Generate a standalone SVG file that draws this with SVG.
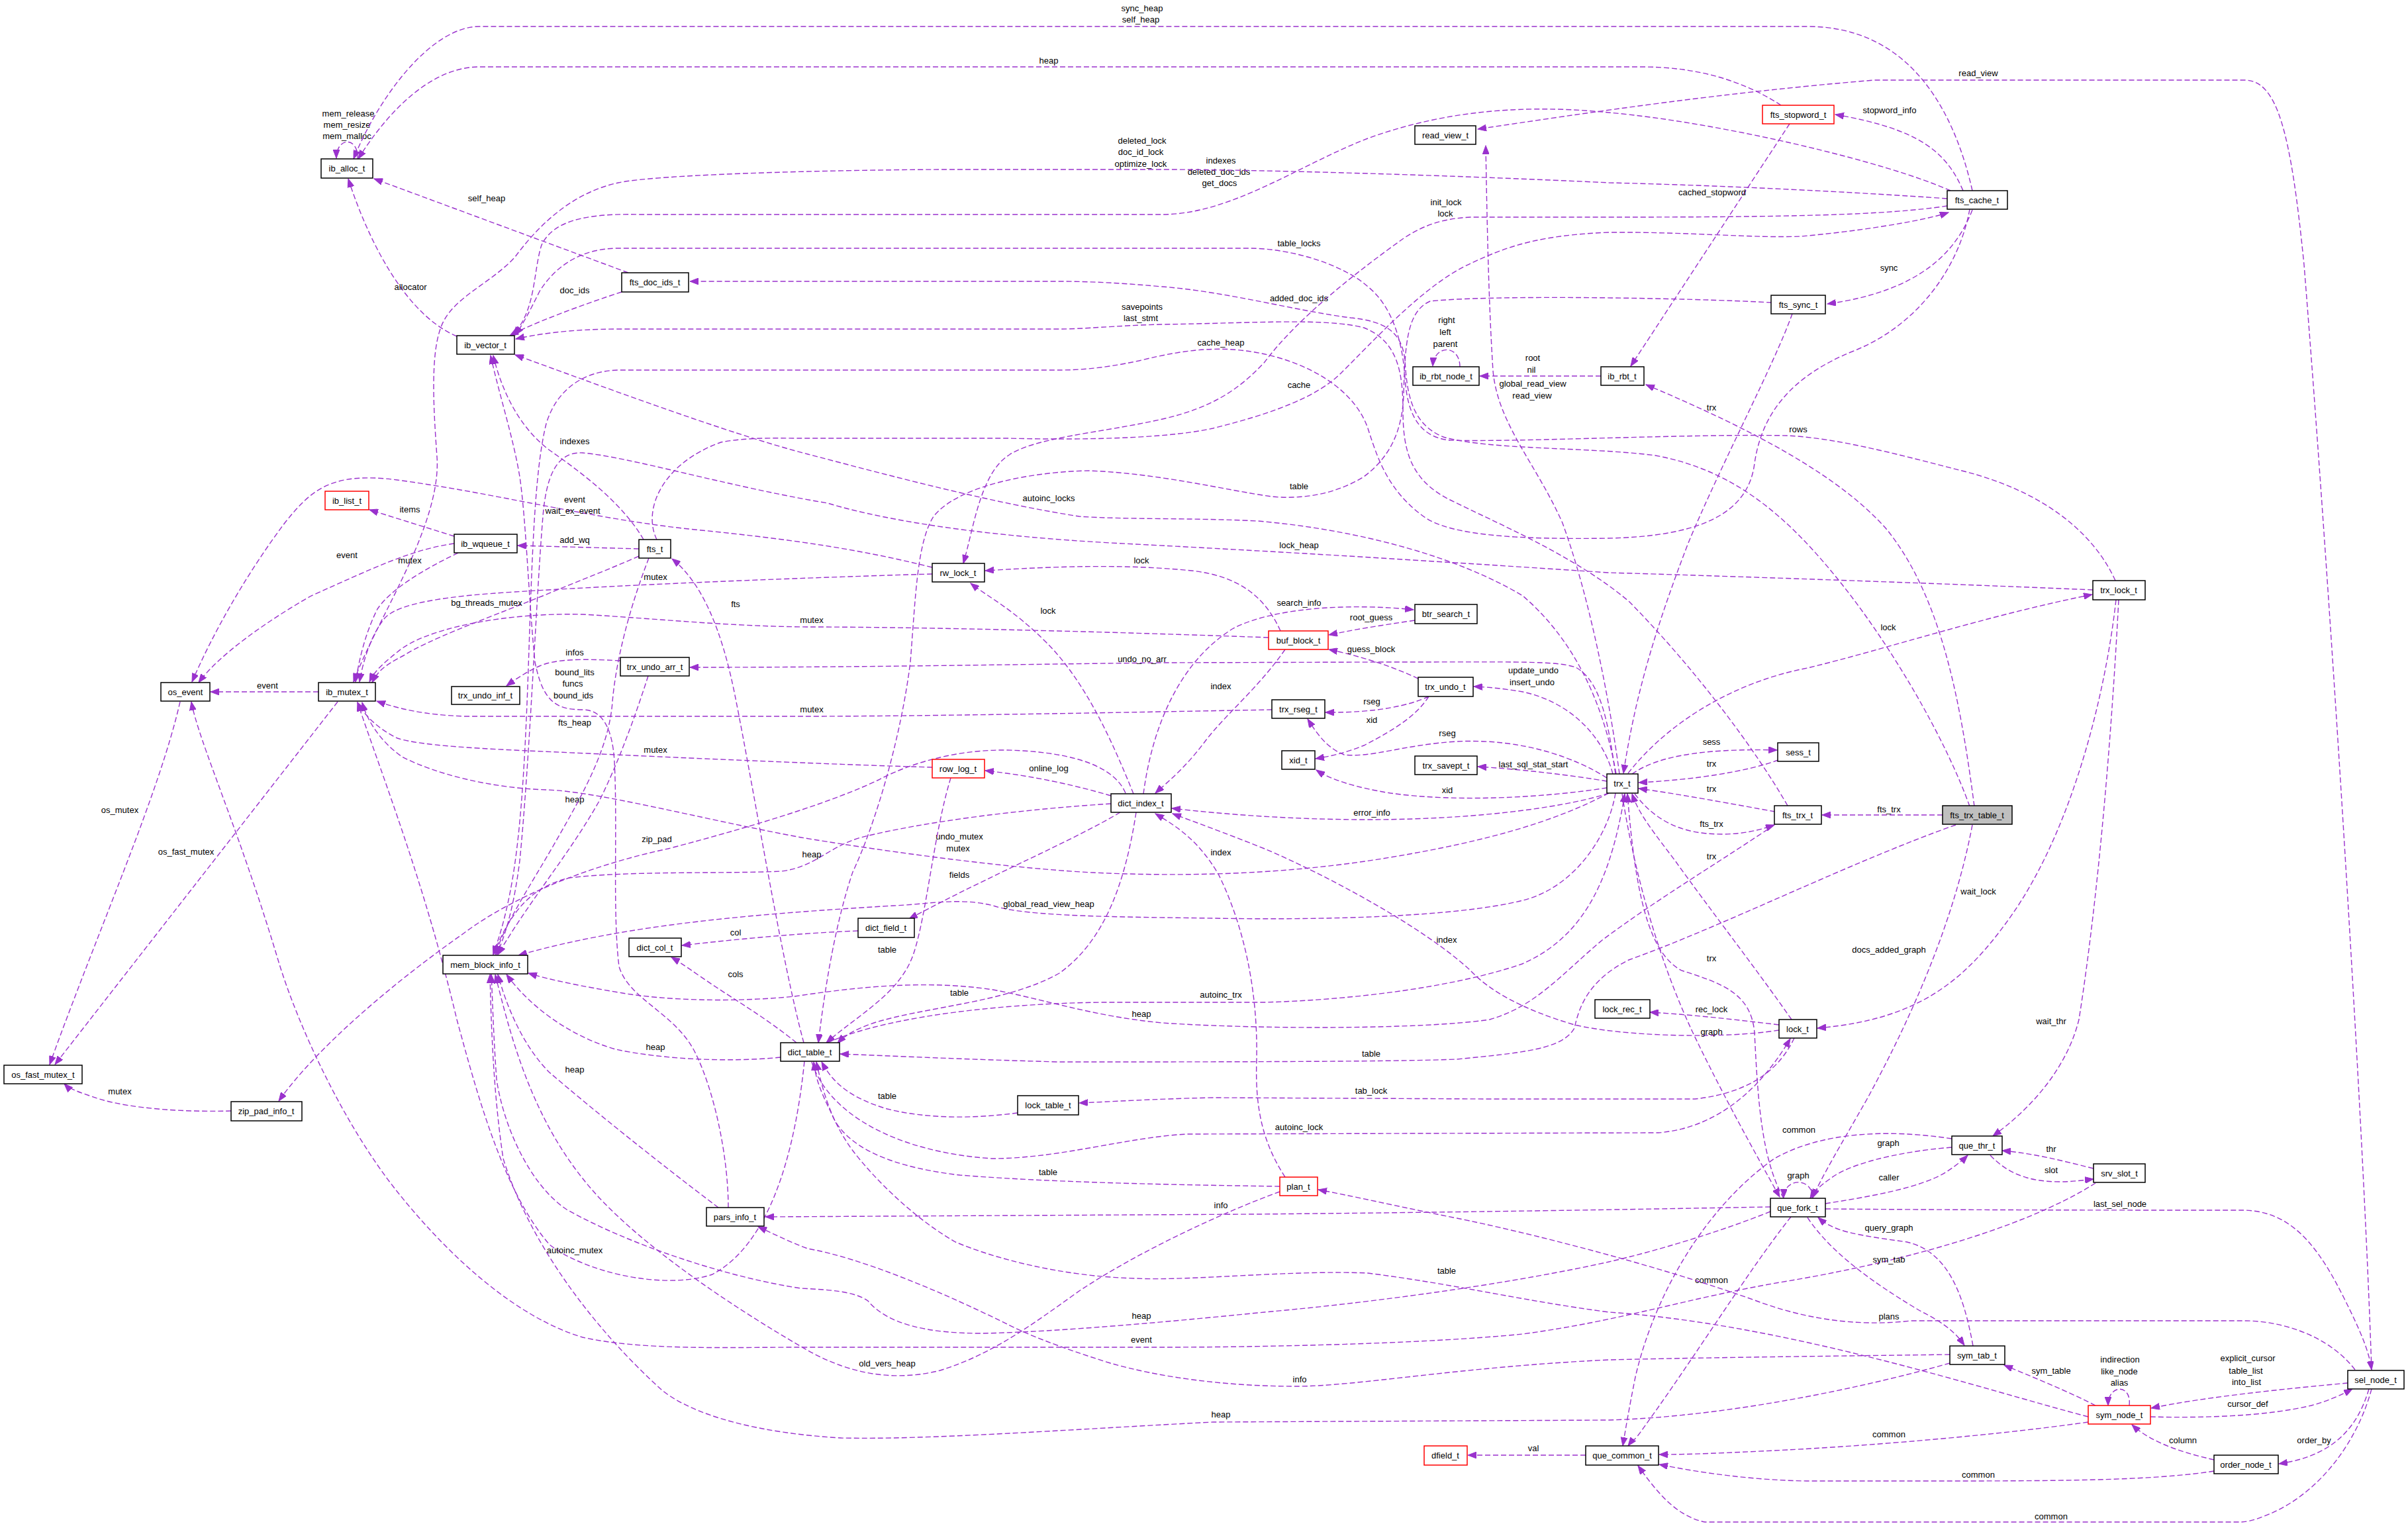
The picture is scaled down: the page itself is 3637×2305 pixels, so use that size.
<svg xmlns="http://www.w3.org/2000/svg" width="3637" height="2305" viewBox="0 0 3637 2305">
<defs>
<marker id="arr" markerUnits="userSpaceOnUse" markerWidth="14" markerHeight="10" refX="13" refY="5" orient="auto"><path d="M0,0 L13,5 L0,10 z" fill="#9a32cd" stroke="#9a32cd" stroke-width="1"/></marker>
<style>
.e{fill:none;stroke:#9a32cd;stroke-width:1.4;stroke-dasharray:8,4;marker-end:url(#arr)}
.n rect{fill:#ffffff;stroke:#000000;stroke-width:1.5}
.n.r rect{stroke:#ff0000}
.n.g rect{fill:#bfbfbf}
text{font-family:"Liberation Sans",Arial,sans-serif;font-size:13px;text-anchor:middle;fill:#000000}
</style>
</defs>
<rect x="0" y="0" width="3637" height="2305" fill="#ffffff"/>
<g id="edges">
<g class="edge"><path class="e" d="M 540,240 C 542,206 508,206 508,239"/><text x="526" y="176">mem_release</text><text x="524" y="193">mem_resize</text><text x="524" y="210">mem_malloc</text></g>
<g class="edge"><path class="e" d="M 2979,288 C 2950,160 2880,40 2730,40 L 724,40 C 650,40 570,150 534,240"/><text x="1725" y="17">sync_heap</text><text x="1723" y="34">self_heap</text></g>
<g class="edge"><path class="e" d="M 2690,159 C 2630,120 2560,101 2480,101 L 724,101 C 640,101 572,190 541,240"/><text x="1584" y="96">heap</text></g>
<g class="edge"><path class="e" d="M 949,412 L 565,270"/><text x="735" y="304">self_heap</text></g>
<g class="edge"><path class="e" d="M 690,508 C 600,470 545,330 526,270"/><text x="620" y="438">allocator</text></g>
<g class="edge"><path class="e" d="M 939,441 C 880,460 800,490 770,507"/><text x="868" y="443">doc_ids</text></g>
<g class="edge"><path class="e" d="M 2946,288 C 2850,245 2600,185 2430,170 C 2330,160 2200,160 2066,209 C 1960,250 1860,324 1754,324 L 965,324 C 880,322 835,335 818,370 C 805,410 810,470 774,506"/><text x="1844" y="247">indexes</text><text x="1841" y="264">deleted_doc_ids</text><text x="1842" y="281">get_docs</text></g>
<g class="edge"><path class="e" d="M 2941,300 C 2800,290 2600,280 2430,276 C 2200,265 1900,256 1754,256 L 1443,256 C 1300,256 1000,262 934,276 C 860,292 810,345 778,388 C 740,430 680,450 665,497 C 650,540 655,620 660,690 C 665,760 620,850 585,920 C 560,970 545,1000 534,1030"/><text x="1725" y="217">deleted_lock</text><text x="1723" y="234">doc_id_lock</text><text x="1723" y="252">optimize_lock</text></g>
<g class="edge"><path class="e" d="M 3582,2069 C 3570,1700 3520,900 3480,400 C 3460,200 3440,121 3390,121 L 2831,121 C 2600,140 2400,170 2232,195"/><text x="2988" y="115">read_view</text></g>
<g class="edge"><path class="e" d="M 2965,288 C 2940,230 2900,195 2772,173"/><text x="2854" y="171">stopword_info</text></g>
<g class="edge"><path class="e" d="M 2703,187 L 2463,553"/><text x="2586" y="295">cached_stopword</text></g>
<g class="edge"><path class="e" d="M 2941,311 C 2850,325 2700,328 2430,328 L 2221,328 C 2180,330 2150,340 2120,360 C 2050,410 1960,480 1910,547 C 1870,590 1830,615 1760,632 C 1660,655 1560,660 1520,690 C 1480,720 1470,800 1455,851"/><text x="2184" y="310">init_lock</text><text x="2183" y="327">lock</text></g>
<g class="edge"><path class="e" d="M 2446,1169 C 2430,1050 2400,900 2360,790 C 2320,700 2262,640 2255,560 C 2248,450 2246,330 2244,220"/><text x="2315" y="584">global_read_view</text><text x="2314" y="602">read_view</text></g>
<g class="edge"><path class="e" d="M 2979,317 C 2955,380 2900,440 2760,459"/><text x="2853" y="409">sync</text></g>
<g class="edge"><path class="e" d="M 992,815 C 970,770 1000,700 1089,668 C 1130,660 1180,662 1210,662 L 1521,662 C 1600,664 1750,665 1832,647 C 1920,625 1990,600 2027,562 C 2070,520 2150,430 2221,398 C 2280,370 2330,355 2430,351 C 2550,350 2650,360 2720,357 C 2800,350 2900,335 2943,321"/><text x="1962" y="586">cache</text></g>
<g class="edge"><path class="e" d="M 2975,1218 C 2940,1120 2860,980 2780,880 C 2700,780 2620,710 2500,688 C 2400,675 2250,680 2180,660 C 2130,640 2125,590 2122,545 C 2118,500 2090,485 2040,480 C 1960,470 1850,440 1755,433 C 1700,428 1650,425 1599,425 L 1042,425"/><text x="1962" y="455">added_doc_ids</text></g>
<g class="edge"><path class="e" d="M 3195,877 C 3160,800 3080,740 2963,711 C 2880,690 2780,662 2700,658 C 2550,655 2300,668 2190,665 C 2140,660 2125,620 2122,570 C 2118,510 2100,460 2066,433 C 2030,400 1950,375 1887,375 L 934,375 C 880,375 840,400 815,440 C 800,470 790,490 778,506"/><text x="1962" y="372">table_locks</text></g>
<g class="edge"><path class="e" d="M 2700,1217 C 2650,1130 2560,1010 2461,909 C 2380,840 2260,790 2190,755 C 2130,725 2119,680 2119,620 C 2119,560 2110,515 2060,495 C 2000,480 1900,488 1754,490 C 1680,492 1640,497 1599,497 L 934,497 C 860,497 810,505 779,512"/><text x="1725" y="468">savepoints</text><text x="1723" y="485">last_stmt</text></g>
<g class="edge"><path class="e" d="M 2205,554 C 2205,520 2166,520 2164,553"/><text x="2185" y="488">right</text><text x="2183" y="506">left</text><text x="2183" y="524">parent</text></g>
<g class="edge"><path class="e" d="M 2975,316 C 2960,400 2900,490 2800,530 C 2700,570 2660,630 2650,700 C 2640,780 2560,810 2430,813 C 2300,815 2190,810 2150,780 C 2095,740 2080,690 2066,647 C 2050,600 2000,560 1930,540 C 1860,520 1800,525 1720,545 C 1660,558 1620,559 1599,559 L 934,559 C 880,560 840,590 825,640 C 810,700 805,800 800,950 C 795,1100 790,1250 770,1350 C 760,1400 752,1420 745,1442"/><text x="1844" y="522">cache_heap</text></g>
<g class="edge"><path class="e" d="M 2418,568 L 2235,568"/><text x="2315" y="545">root</text><text x="2313" y="563">nil</text></g>
<g class="edge"><path class="e" d="M 2707,474 C 2680,550 2600,700 2550,820 C 2500,950 2470,1050 2452,1168"/><text x="2585" y="620">trx</text></g>
<g class="edge"><path class="e" d="M 2982,1218 C 2960,1050 2930,900 2850,800 C 2780,720 2650,650 2486,581"/><text x="2716" y="653">rows</text></g>
<g class="edge"><path class="e" d="M 972,815 C 940,760 880,715 830,680 C 790,650 760,600 745,537"/><text x="868" y="671">indexes</text></g>
<g class="edge"><path class="e" d="M 1408,857 C 1300,830 1200,815 1050,800 C 900,785 750,745 600,725 C 500,712 470,740 430,790 C 370,870 320,960 290,1030"/><text x="868" y="759">event</text><text x="865" y="776">wait_ex_event</text></g>
<g class="edge"><path class="e" d="M 686,810 L 558,770"/><text x="619" y="774">items</text></g>
<g class="edge"><path class="e" d="M 965,829 L 782,824"/><text x="868" y="820">add_wq</text></g>
<g class="edge"><path class="e" d="M 3161,891 C 2900,880 2600,870 2430,865 C 2200,850 1990,836 1677,820 C 1500,810 1350,790 1250,760 C 1100,735 950,690 880,684 C 840,682 825,720 820,780 C 810,900 800,1150 785,1300 C 775,1380 760,1420 750,1442"/><text x="1962" y="828">lock_heap</text></g>
<g class="edge"><path class="e" d="M 686,821 C 620,830 560,860 470,900 C 400,940 330,990 300,1031"/><text x="524" y="843">event</text></g>
<g class="edge"><path class="e" d="M 692,835 C 640,860 590,890 570,920 C 550,960 542,1000 537,1030"/><text x="619" y="851">mutex</text></g>
<g class="edge"><path class="e" d="M 1934,953 C 1910,900 1870,870 1800,862 C 1700,852 1600,855 1488,862"/><text x="1724" y="851">lock</text></g>
<g class="edge"><path class="e" d="M 1408,867 C 1300,870 1000,880 778,894 C 680,900 600,910 580,935 C 560,960 548,1000 543,1030"/><text x="990" y="876">mutex</text></g>
<g class="edge"><path class="e" d="M 965,840 C 920,860 880,875 820,900 C 720,940 650,965 610,990 C 580,1005 570,1015 562,1031"/><text x="735" y="915">bg_threads_mutex</text></g>
<g class="edge"><path class="e" d="M 1727,1199 C 1740,1100 1780,1000 1863,949 C 1930,915 2050,912 2135,921"/><text x="1962" y="915">search_info</text></g>
<g class="edge"><path class="e" d="M 2137,937 C 2090,944 2050,950 2007,959"/><text x="2071" y="937">root_guess</text></g>
<g class="edge"><path class="e" d="M 1712,1199 C 1680,1120 1640,1030 1580,970 C 1530,920 1490,900 1466,881"/><text x="1583" y="927">lock</text></g>
<g class="edge"><path class="e" d="M 1916,963 C 1700,955 1400,947 1220,947 C 1100,946 1000,935 880,928 C 760,925 640,950 600,985 C 575,1005 565,1015 558,1030"/><text x="1226" y="941">mutex</text></g>
<g class="edge"><path class="e" d="M 1214,1575 C 1180,1450 1140,1200 1110,1050 C 1090,950 1060,880 1015,844"/><text x="1111" y="917">fts</text></g>
<g class="edge"><path class="e" d="M 2142,1025 C 2100,1005 2050,990 2007,981"/><text x="2071" y="985">guess_block</text></g>
<g class="edge"><path class="e" d="M 2440,1169 C 2430,1100 2420,1030 2380,1008 C 2350,998 2300,1000 2100,1000 L 1755,1001 C 1500,1004 1300,1008 1042,1008"/><text x="1725" y="1000">undo_no_arr</text></g>
<g class="edge"><path class="e" d="M 2436,1169 C 2420,1110 2370,1060 2300,1045 C 2270,1040 2250,1038 2226,1037"/><text x="2316" y="1017">update_undo</text><text x="2314" y="1035">insert_undo</text></g>
<g class="edge"><path class="e" d="M 937,998 C 880,995 840,995 815,1006 C 795,1015 780,1025 765,1036"/><text x="868" y="990">infos</text></g>
<g class="edge"><path class="e" d="M 1100,1824 C 1100,1750 1080,1650 1050,1590 C 1020,1530 950,1510 935,1460 C 925,1380 933,1250 928,1150 C 925,1100 910,1072 880,1072 C 840,1072 820,1060 808,1000 C 798,900 795,790 785,720 C 775,660 755,600 741,537"/><text x="868" y="1020">bound_lits</text><text x="865" y="1037">funcs</text><text x="866" y="1055">bound_ids</text></g>
<g class="edge"><path class="e" d="M 2158,1052 C 2130,1065 2080,1077 2002,1076"/><text x="2072" y="1064">rseg</text></g>
<g class="edge"><path class="e" d="M 2158,1052 C 2140,1080 2110,1100 2060,1126 C 2030,1138 2010,1142 1987,1146"/><text x="2072" y="1092">xid</text></g>
<g class="edge"><path class="e" d="M 2427,1175 C 2380,1145 2300,1115 2200,1120 C 2120,1125 2070,1145 2030,1140 C 2005,1130 1990,1110 1975,1086"/><text x="2186" y="1112">rseg</text></g>
<g class="edge"><path class="e" d="M 2427,1180 C 2380,1172 2300,1162 2232,1158"/><text x="2316" y="1159">last_sql_stat_start</text></g>
<g class="edge"><path class="e" d="M 1678,1202 C 1620,1185 1560,1172 1488,1164"/><text x="1584" y="1165">online_log</text></g>
<g class="edge"><path class="e" d="M 2465,1169 C 2500,1145 2560,1130 2684,1133"/><text x="2585" y="1125">sess</text></g>
<g class="edge"><path class="e" d="M 2686,1148 C 2640,1165 2560,1178 2475,1182"/><text x="2585" y="1158">trx</text></g>
<g class="edge"><path class="e" d="M 2681,1226 C 2620,1215 2540,1200 2475,1191"/><text x="2585" y="1196">trx</text></g>
<g class="edge"><path class="e" d="M 2427,1190 C 2330,1205 2200,1212 2100,1198 C 2050,1190 2010,1178 1988,1163"/><text x="2186" y="1198">xid</text></g>
<g class="edge"><path class="e" d="M 2934,1231 L 2752,1231"/><text x="2853" y="1227">fts_trx</text></g>
<g class="edge"><path class="e" d="M 2430,1198 C 2380,1215 2250,1238 2066,1238 C 1950,1238 1850,1230 1770,1221"/><text x="2072" y="1232">error_info</text></g>
<g class="edge"><path class="e" d="M 2469,1199 C 2500,1240 2540,1260 2600,1260 C 2630,1260 2655,1255 2680,1246"/><text x="2585" y="1249">fts_trx</text></g>
<g class="edge"><path class="e" d="M 2430,1198 C 2350,1240 2250,1270 2100,1295 C 1950,1320 1800,1325 1650,1318 C 1500,1310 1300,1280 1210,1265 C 1050,1235 900,1195 825,1193 C 740,1190 660,1170 607,1143 C 575,1120 555,1090 547,1061"/><text x="1449" y="1268">undo_mutex</text><text x="1447" y="1286">mutex</text></g>
<g class="edge"><path class="e" d="M 1408,1159 C 1300,1156 1100,1148 887,1138 C 750,1132 640,1128 600,1115 C 570,1100 550,1080 540,1061"/><text x="990" y="1137">mutex</text></g>
<g class="edge"><path class="e" d="M 1921,1072 C 1700,1076 1400,1082 1210,1082 L 703,1082 C 640,1080 600,1070 569,1059"/><text x="1226" y="1076">mutex</text></g>
<g class="edge"><path class="e" d="M 1678,1214 C 1550,1222 1400,1240 1300,1265 C 1250,1280 1230,1310 1180,1316 C 1100,1320 950,1315 860,1326 C 800,1340 770,1380 745,1442"/><text x="1226" y="1295">heap</text></g>
<g class="edge"><path class="e" d="M 979,1021 C 960,1080 935,1150 905,1210 C 860,1290 800,1360 752,1442"/><text x="868" y="1212">heap</text></g>
<g class="edge"><path class="e" d="M 980,843 C 950,920 930,1000 925,1060 C 920,1130 880,1200 840,1270 C 800,1340 765,1390 748,1442"/><text x="868" y="1096">fts_heap</text></g>
<g class="edge"><path class="e" d="M 1700,1198 C 1680,1150 1600,1135 1521,1133 C 1450,1132 1380,1150 1327,1178 C 1260,1210 1150,1245 1009,1282 C 900,1305 780,1350 700,1410 C 600,1480 480,1580 421,1663"/><text x="992" y="1272">zip_pad</text></g>
<g class="edge"><path class="e" d="M 1941,981 C 1900,1040 1850,1080 1820,1120 C 1790,1160 1765,1180 1745,1198"/><text x="1844" y="1041">index</text></g>
<g class="edge"><path class="e" d="M 1941,1778 C 1910,1730 1895,1680 1898,1600 C 1900,1500 1880,1400 1840,1320 C 1810,1270 1780,1250 1745,1229"/><text x="1844" y="1292">index</text></g>
<g class="edge"><path class="e" d="M 2687,1556 C 2600,1570 2450,1565 2378,1548 C 2300,1525 2250,1497 2221,1466 C 2150,1400 2000,1320 1910,1282 C 1850,1258 1800,1240 1771,1229"/><text x="2185" y="1424">index</text></g>
<g class="edge"><path class="e" d="M 1436,1175 C 1410,1260 1400,1380 1380,1440 C 1360,1500 1300,1530 1248,1575"/><text x="1340" y="1439">table</text></g>
<g class="edge"><path class="e" d="M 1692,1227 C 1620,1270 1500,1320 1373,1388"/><text x="1449" y="1326">fields</text></g>
<g class="edge"><path class="e" d="M 2440,1198 C 2430,1260 2380,1340 2300,1360 C 2200,1385 2000,1390 1832,1387 C 1700,1385 1550,1385 1500,1368 C 1450,1355 1400,1366 1350,1368 C 1150,1380 950,1395 783,1443"/><text x="1584" y="1370">global_read_view_heap</text></g>
<g class="edge"><path class="e" d="M 1296,1406 C 1200,1410 1120,1418 1030,1428"/><text x="1111" y="1413">col</text></g>
<g class="edge"><path class="e" d="M 1203,1575 C 1160,1540 1110,1510 1080,1490 C 1050,1470 1030,1455 1014,1446"/><text x="1111" y="1476">cols</text></g>
<g class="edge"><path class="e" d="M 1716,1227 C 1700,1330 1670,1420 1600,1470 C 1520,1515 1400,1520 1320,1545 C 1290,1555 1275,1565 1265,1576"/><text x="1449" y="1504">table</text></g>
<g class="edge"><path class="e" d="M 1250,1575 C 1350,1530 1550,1514 1677,1514 L 1910,1514 C 2050,1510 2200,1490 2299,1456 C 2380,1420 2430,1350 2454,1199"/><text x="1844" y="1507">autoinc_trx</text></g>
<g class="edge"><path class="e" d="M 2680,1246 C 2600,1300 2500,1360 2420,1420 C 2360,1470 2320,1520 2250,1540 C 2150,1555 1900,1555 1755,1545 C 1650,1535 1580,1510 1500,1495 C 1400,1480 1300,1490 1200,1505 C 1100,1515 1000,1510 940,1500 C 880,1490 830,1480 798,1470"/><text x="1724" y="1536">heap</text></g>
<g class="edge"><path class="e" d="M 1179,1597 C 1100,1605 1000,1600 930,1585 C 860,1565 800,1520 765,1472"/><text x="990" y="1586">heap</text></g>
<g class="edge"><path class="e" d="M 1085,1824 C 1000,1760 900,1680 830,1620 C 790,1580 765,1520 752,1472"/><text x="868" y="1620">heap</text></g>
<g class="edge"><path class="e" d="M 349,1678 C 280,1680 200,1675 150,1660 C 120,1650 105,1645 97,1637"/><text x="181" y="1653">mutex</text></g>
<g class="edge"><path class="e" d="M 272,1060 C 240,1200 150,1400 75,1608"/><text x="181" y="1228">os_mutex</text></g>
<g class="edge"><path class="e" d="M 510,1060 L 83,1608"/><text x="281" y="1291">os_fast_mutex</text></g>
<g class="edge"><path class="e" d="M 481,1045 L 318,1045"/><text x="404" y="1040">event</text></g>
<g class="edge"><path class="e" d="M 1215,1603 C 1200,1750 1160,1880 1076,1925 C 1000,1950 880,1920 830,1880 C 760,1800 720,1650 690,1540 C 640,1330 580,1180 540,1061"/><text x="868" y="1893">autoinc_mutex</text></g>
<g class="edge"><path class="e" d="M 3165,1787 C 3050,1860 2850,1910 2700,1935 C 2550,1960 2450,1995 2300,2015 C 2150,2030 1900,2035 1755,2035 L 1210,2035 C 1100,2035 970,2040 880,2020 C 780,1990 680,1900 600,1800 C 520,1700 450,1550 420,1450 C 360,1250 300,1120 289,1060"/><text x="1724" y="2028">event</text></g>
<g class="edge"><path class="e" d="M 2674,1823 C 2500,1826 2300,1830 1900,1834 L 1156,1838"/><text x="1844" y="1825">info</text></g>
<g class="edge"><path class="e" d="M 2945,2046 C 2800,2048 2600,2050 2430,2054 C 2200,2065 2050,2094 1957,2094 C 1850,2094 1750,2080 1677,2059 C 1600,2035 1550,2015 1521,2000 C 1420,1950 1300,1900 1220,1886 C 1190,1875 1165,1862 1145,1853"/><text x="1963" y="2088">info</text></g>
<g class="edge"><path class="e" d="M 3154,2140 C 3000,2100 2700,2000 2430,1982 C 2300,1965 2200,1940 2066,1923 C 1950,1918 1800,1935 1716,1931 C 1600,1928 1500,1900 1443,1876 C 1380,1840 1320,1780 1288,1738 C 1260,1700 1245,1660 1233,1604"/><text x="2185" y="1924">table</text></g>
<g class="edge"><path class="e" d="M 2674,1830 C 2600,1860 2500,1890 2430,1906 C 2300,1935 2100,1965 1910,1982 C 1780,1995 1600,2012 1482,2014 C 1400,2014 1340,2000 1311,1965 C 1290,1950 1250,1948 1210,1946 C 1100,1930 950,1880 856,1827 C 800,1790 760,1700 750,1630 C 745,1560 744,1510 742,1472"/><text x="1724" y="1992">heap</text></g>
<g class="edge"><path class="e" d="M 1933,1800 C 1850,1830 1720,1890 1630,1950 C 1560,2000 1500,2045 1420,2070 C 1340,2090 1270,2070 1210,2034 C 1100,1970 950,1870 880,1780 C 800,1680 770,1560 748,1472"/><text x="1340" y="2064">old_vers_heap</text></g>
<g class="edge"><path class="e" d="M 2730,1839 C 2770,1900 2850,1950 2900,1980 C 2940,2000 2955,2015 2967,2032"/><text x="2853" y="1907">sym_tab</text></g>
<g class="edge"><path class="e" d="M 2980,2033 C 2965,1950 2940,1890 2880,1876 C 2800,1865 2770,1860 2746,1839"/><text x="2853" y="1859">query_graph</text></g>
<g class="edge"><path class="e" d="M 2948,1720 C 2850,1705 2750,1710 2680,1750 C 2580,1820 2500,1950 2470,2080 C 2460,2130 2455,2160 2451,2184"/><text x="2717" y="1711">common</text></g>
<g class="edge"><path class="e" d="M 2948,1733 C 2860,1740 2790,1760 2765,1780 C 2750,1790 2740,1800 2734,1810"/><text x="2852" y="1731">graph</text></g>
<g class="edge"><path class="e" d="M 3162,1765 C 3110,1752 3070,1742 3024,1738"/><text x="3098" y="1740">thr</text></g>
<g class="edge"><path class="e" d="M 3006,1745 C 3030,1770 3060,1785 3110,1785 C 3130,1785 3145,1783 3162,1781"/><text x="3098" y="1772">slot</text></g>
<g class="edge"><path class="e" d="M 2757,1818 C 2820,1808 2900,1795 2940,1770 C 2955,1760 2965,1752 2972,1745"/><text x="2853" y="1783">caller</text></g>
<g class="edge"><path class="e" d="M 2738,1810 C 2738,1778 2695,1778 2694,1809"/><text x="2716" y="1780">graph</text></g>
<g class="edge"><path class="e" d="M 3200,906 C 3190,1100 3170,1350 3140,1540 C 3120,1620 3060,1680 3010,1716"/><text x="3098" y="1547">wait_thr</text></g>
<g class="edge"><path class="e" d="M 3196,906 C 3180,1050 3130,1250 3040,1380 C 2970,1480 2900,1540 2745,1553"/><text x="2988" y="1351">wait_lock</text></g>
<g class="edge"><path class="e" d="M 2979,1246 C 2950,1400 2880,1550 2820,1660 C 2780,1730 2750,1780 2738,1809"/><text x="2853" y="1439">docs_added_graph</text></g>
<g class="edge"><path class="e" d="M 2687,1548 C 2620,1540 2560,1533 2492,1529"/><text x="2585" y="1529">rec_lock</text></g>
<g class="edge"><path class="e" d="M 2710,1568 C 2690,1610 2650,1650 2560,1660 L 2250,1660 L 1832,1658 C 1740,1660 1680,1664 1630,1666"/><text x="2071" y="1652">tab_lock</text></g>
<g class="edge"><path class="e" d="M 1226,1604 C 1250,1680 1350,1740 1498,1750 C 1600,1750 1700,1718 1793,1713 L 2505,1711 C 2580,1705 2650,1660 2704,1569"/><text x="1962" y="1707">autoinc_lock</text></g>
<g class="edge"><path class="e" d="M 1537,1681 C 1470,1690 1400,1690 1340,1675 C 1290,1660 1260,1640 1241,1604"/><text x="1340" y="1660">table</text></g>
<g class="edge"><path class="e" d="M 1933,1792 C 1800,1790 1600,1787 1450,1775 C 1320,1760 1270,1720 1255,1680 C 1240,1650 1232,1630 1229,1604"/><text x="1583" y="1775">table</text></g>
<g class="edge"><path class="e" d="M 2954,1246 C 2800,1300 2600,1400 2460,1450 C 2400,1480 2385,1520 2378,1553 C 2360,1585 2300,1590 2200,1600 C 2100,1604 1800,1604 1599,1604 C 1450,1600 1350,1595 1269,1592"/><text x="2071" y="1596">table</text></g>
<g class="edge"><path class="e" d="M 2706,1540 C 2650,1460 2580,1370 2530,1300 C 2500,1260 2475,1230 2465,1199"/><text x="2585" y="1298">trx</text></g>
<g class="edge"><path class="e" d="M 2694,1810 C 2660,1750 2655,1660 2650,1560 C 2645,1500 2600,1485 2540,1466 C 2490,1440 2470,1350 2458,1199"/><text x="2585" y="1452">trx</text></g>
<g class="edge"><path class="e" d="M 2450,1199 C 2470,1330 2510,1460 2556,1558 C 2600,1650 2650,1740 2688,1808"/><text x="2585" y="1563">graph</text></g>
<g class="edge"><path class="e" d="M 2705,1838 C 2640,1920 2560,2050 2480,2160 C 2470,2175 2462,2180 2459,2184"/><text x="2585" y="1938">common</text></g>
<g class="edge"><path class="e" d="M 3154,2148 C 3000,2170 2800,2185 2700,2190 C 2600,2195 2550,2197 2506,2197"/><text x="2853" y="2171">common</text></g>
<g class="edge"><path class="e" d="M 3344,2222 C 3250,2237 3100,2237 2900,2237 L 2730,2237 C 2650,2236 2570,2225 2506,2212"/><text x="2988" y="2232">common</text></g>
<g class="edge"><path class="e" d="M 3582,2098 C 3560,2180 3500,2260 3420,2290 C 3400,2298 3390,2299 3382,2299 L 2575,2299 C 2530,2290 2500,2250 2474,2214"/><text x="3098" y="2295">common</text></g>
<g class="edge"><path class="e" d="M 2395,2198 L 2217,2198"/><text x="2316" y="2192">val</text></g>
<g class="edge"><path class="e" d="M 3165,2123 C 3120,2100 3070,2080 3027,2062"/><text x="3098" y="2075">sym_table</text></g>
<g class="edge"><path class="e" d="M 3216,2123 C 3220,2090 3184,2090 3184,2123"/><text x="3202" y="2058">indirection</text><text x="3201" y="2076">like_node</text><text x="3201" y="2093">alias</text></g>
<g class="edge"><path class="e" d="M 3546,2089 C 3450,2098 3330,2110 3249,2127"/><text x="3395" y="2056">explicit_cursor</text><text x="3392" y="2075">table_list</text><text x="3393" y="2092">into_list</text></g>
<g class="edge"><path class="e" d="M 3248,2140 C 3320,2142 3420,2140 3491,2123 C 3520,2115 3540,2105 3553,2098"/><text x="3395" y="2125">cursor_def</text></g>
<g class="edge"><path class="e" d="M 3344,2205 C 3300,2195 3250,2180 3220,2152"/><text x="3297" y="2180">column</text></g>
<g class="edge"><path class="e" d="M 3578,2098 C 3560,2160 3520,2200 3442,2211"/><text x="3495" y="2180">order_by</text></g>
<g class="edge"><path class="e" d="M 2757,1826 C 3000,1828 3250,1828 3390,1828 C 3460,1830 3500,1880 3540,1960 C 3565,2010 3578,2040 3582,2069"/><text x="3202" y="1823">last_sel_node</text></g>
<g class="edge"><path class="e" d="M 3557,2069 C 3520,2020 3450,1995 3390,1995 L 2886,1995 C 2800,2005 2720,1990 2653,1965 C 2500,1910 2300,1860 2200,1840 C 2100,1820 2050,1808 1991,1797"/><text x="2853" y="1993">plans</text></g>
<g class="edge"><path class="e" d="M 2945,2059 C 2800,2100 2600,2140 2430,2145 L 1832,2148 C 1600,2160 1400,2175 1270,2172 C 1150,2165 1050,2140 1000,2100 C 900,2010 800,1880 760,1750 C 745,1650 742,1550 740,1472"/><text x="1844" y="2141">heap</text></g>
<g class="edge"><path class="e" d="M 2459,1168 C 2520,1090 2620,1030 2730,1009 C 2850,980 3000,930 3160,898"/><text x="2852" y="952">lock</text></g>
<g class="edge"><path class="e" d="M 2441,1169 C 2420,1050 2370,960 2300,900 C 2200,840 2050,800 1900,787 C 1800,782 1700,785 1630,780 C 1500,760 1350,720 1220,686 C 1100,655 900,580 778,536"/><text x="1584" y="757">autoinc_locks</text></g>
<g class="edge"><path class="e" d="M 2676,457 C 2550,450 2250,445 2160,455 C 2125,470 2122,520 2120,597 C 2118,650 2100,690 2060,720 C 2020,745 1970,755 1920,750 C 1850,740 1750,715 1645,711 C 1570,712 1450,730 1410,780 C 1385,820 1383,900 1375,1000 C 1360,1120 1320,1250 1288,1317 C 1260,1400 1245,1500 1236,1575"/><text x="1962" y="739">table</text></g>
</g>
<g id="nodes">
<g id="node_ib_alloc_t" class="n"><rect x="485" y="240" width="78" height="29"/><text x="524" y="259">ib_alloc_t</text></g>
<g id="node_read_view_t" class="n"><rect x="2137" y="190" width="92" height="28"/><text x="2183" y="209">read_view_t</text></g>
<g id="node_fts_stopword_t" class="n r"><rect x="2662" y="159" width="108" height="28"/><text x="2716" y="178">fts_stopword_t</text></g>
<g id="node_fts_cache_t" class="n"><rect x="2941" y="288" width="91" height="28"/><text x="2986" y="307">fts_cache_t</text></g>
<g id="node_fts_doc_ids_t" class="n"><rect x="939" y="412" width="101" height="29"/><text x="989" y="431">fts_doc_ids_t</text></g>
<g id="node_ib_vector_t" class="n"><rect x="690" y="507" width="87" height="28"/><text x="733" y="526">ib_vector_t</text></g>
<g id="node_fts_sync_t" class="n"><rect x="2675" y="446" width="82" height="28"/><text x="2716" y="465">fts_sync_t</text></g>
<g id="node_ib_rbt_node_t" class="n"><rect x="2134" y="554" width="100" height="28"/><text x="2184" y="573">ib_rbt_node_t</text></g>
<g id="node_ib_rbt_t" class="n"><rect x="2418" y="554" width="65" height="28"/><text x="2450" y="573">ib_rbt_t</text></g>
<g id="node_ib_list_t" class="n r"><rect x="491" y="742" width="66" height="28"/><text x="524" y="761">ib_list_t</text></g>
<g id="node_ib_wqueue_t" class="n"><rect x="686" y="807" width="95" height="28"/><text x="733" y="826">ib_wqueue_t</text></g>
<g id="node_fts_t" class="n"><rect x="965" y="815" width="48" height="28"/><text x="989" y="834">fts_t</text></g>
<g id="node_rw_lock_t" class="n"><rect x="1408" y="851" width="79" height="28"/><text x="1447" y="870">rw_lock_t</text></g>
<g id="node_trx_lock_t" class="n"><rect x="3161" y="877" width="79" height="29"/><text x="3200" y="896">trx_lock_t</text></g>
<g id="node_btr_search_t" class="n"><rect x="2137" y="913" width="94" height="29"/><text x="2184" y="932">btr_search_t</text></g>
<g id="node_buf_block_t" class="n r"><rect x="1916" y="953" width="90" height="28"/><text x="1961" y="972">buf_block_t</text></g>
<g id="node_os_event" class="n"><rect x="243" y="1031" width="74" height="28"/><text x="280" y="1050">os_event</text></g>
<g id="node_ib_mutex_t" class="n"><rect x="481" y="1031" width="86" height="28"/><text x="524" y="1050">ib_mutex_t</text></g>
<g id="node_trx_undo_arr_t" class="n"><rect x="937" y="993" width="104" height="28"/><text x="989" y="1012">trx_undo_arr_t</text></g>
<g id="node_trx_undo_inf_t" class="n"><rect x="682" y="1037" width="103" height="27"/><text x="733" y="1055">trx_undo_inf_t</text></g>
<g id="node_trx_undo_t" class="n"><rect x="2142" y="1023" width="83" height="29"/><text x="2183" y="1042">trx_undo_t</text></g>
<g id="node_trx_rseg_t" class="n"><rect x="1921" y="1057" width="80" height="28"/><text x="1961" y="1076">trx_rseg_t</text></g>
<g id="node_xid_t" class="n"><rect x="1936" y="1134" width="50" height="28"/><text x="1961" y="1153">xid_t</text></g>
<g id="node_sess_t" class="n"><rect x="2685" y="1122" width="62" height="28"/><text x="2716" y="1141">sess_t</text></g>
<g id="node_trx_savept_t" class="n"><rect x="2137" y="1142" width="94" height="28"/><text x="2184" y="1161">trx_savept_t</text></g>
<g id="node_trx_t" class="n"><rect x="2427" y="1169" width="47" height="29"/><text x="2450" y="1188">trx_t</text></g>
<g id="node_row_log_t" class="n r"><rect x="1408" y="1147" width="79" height="28"/><text x="1447" y="1166">row_log_t</text></g>
<g id="node_dict_index_t" class="n"><rect x="1678" y="1199" width="91" height="28"/><text x="1723" y="1218">dict_index_t</text></g>
<g id="node_fts_trx_t" class="n"><rect x="2680" y="1217" width="71" height="28"/><text x="2715" y="1236">fts_trx_t</text></g>
<g id="node_fts_trx_table_t" class="n g"><rect x="2934" y="1217" width="105" height="28"/><text x="2986" y="1236">fts_trx_table_t</text></g>
<g id="node_dict_field_t" class="n"><rect x="1296" y="1387" width="85" height="29"/><text x="1338" y="1406">dict_field_t</text></g>
<g id="node_dict_col_t" class="n"><rect x="950" y="1417" width="79" height="28"/><text x="989" y="1436">dict_col_t</text></g>
<g id="node_mem_block_info_t" class="n"><rect x="669" y="1443" width="128" height="28"/><text x="733" y="1462">mem_block_info_t</text></g>
<g id="node_lock_rec_t" class="n"><rect x="2409" y="1510" width="83" height="28"/><text x="2450" y="1529">lock_rec_t</text></g>
<g id="node_lock_t" class="n"><rect x="2687" y="1540" width="57" height="28"/><text x="2715" y="1559">lock_t</text></g>
<g id="node_dict_table_t" class="n"><rect x="1179" y="1575" width="89" height="28"/><text x="1223" y="1594">dict_table_t</text></g>
<g id="node_os_fast_mutex_t" class="n"><rect x="6" y="1609" width="118" height="28"/><text x="65" y="1628">os_fast_mutex_t</text></g>
<g id="node_zip_pad_info_t" class="n"><rect x="349" y="1664" width="107" height="29"/><text x="402" y="1683">zip_pad_info_t</text></g>
<g id="node_lock_table_t" class="n"><rect x="1537" y="1655" width="92" height="29"/><text x="1583" y="1674">lock_table_t</text></g>
<g id="node_que_thr_t" class="n"><rect x="2948" y="1716" width="76" height="28"/><text x="2986" y="1735">que_thr_t</text></g>
<g id="node_srv_slot_t" class="n"><rect x="3162" y="1758" width="78" height="28"/><text x="3201" y="1777">srv_slot_t</text></g>
<g id="node_plan_t" class="n r"><rect x="1933" y="1778" width="57" height="28"/><text x="1961" y="1797">plan_t</text></g>
<g id="node_pars_info_t" class="n"><rect x="1067" y="1824" width="87" height="28"/><text x="1110" y="1843">pars_info_t</text></g>
<g id="node_que_fork_t" class="n"><rect x="2674" y="1810" width="83" height="28"/><text x="2715" y="1829">que_fork_t</text></g>
<g id="node_sym_tab_t" class="n"><rect x="2945" y="2033" width="83" height="28"/><text x="2986" y="2052">sym_tab_t</text></g>
<g id="node_sel_node_t" class="n"><rect x="3546" y="2070" width="85" height="28"/><text x="3588" y="2089">sel_node_t</text></g>
<g id="node_sym_node_t" class="n r"><rect x="3154" y="2123" width="94" height="28"/><text x="3201" y="2142">sym_node_t</text></g>
<g id="node_dfield_t" class="n r"><rect x="2151" y="2184" width="65" height="29"/><text x="2183" y="2203">dfield_t</text></g>
<g id="node_que_common_t" class="n"><rect x="2395" y="2184" width="110" height="29"/><text x="2450" y="2203">que_common_t</text></g>
<g id="node_order_node_t" class="n"><rect x="3344" y="2198" width="97" height="28"/><text x="3392" y="2217">order_node_t</text></g>
</g>
</svg>
